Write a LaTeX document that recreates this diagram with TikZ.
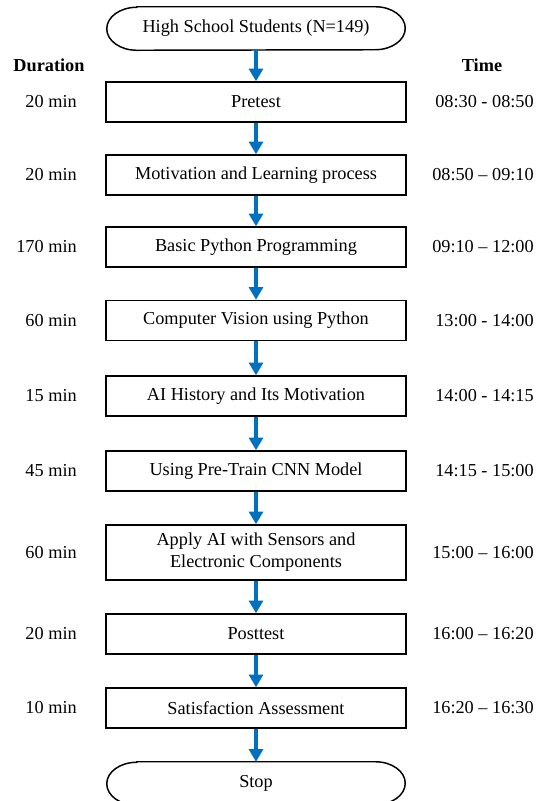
\documentclass[tikz,border=0pt]{standalone}
\usepackage{fontspec}
\setmainfont{Liberation Serif}
\usepackage{tikz}
\usetikzlibrary{arrows.meta,calc,positioning}
\definecolor{flowblue}{RGB}{0,112,192}
\newcommand{\flowfont}{\fontsize{13.7}{16.5}\selectfont}

\tikzset{
  stage/.style={draw,line width=1.2pt,minimum width=225pt,align=center,inner sep=2pt},
  terminal/.style={minimum width=223.5pt,minimum height=32.25pt,inner sep=0pt},
  side/.style={inner sep=0pt,anchor=east},
  head/.style={font=\flowfont\bfseries,inner sep=0pt},
  flow/.style={flowblue,line width=3pt,-{Triangle[width=10.5pt,length=9.5pt]}}
}

\begin{document}
\begin{tikzpicture}[x=0.75pt,y=-0.75pt,font=\flowfont]
  \useasboundingbox (0,0) rectangle (542,801);
  \node[terminal] (start) at (256,28.5) {High School Students (N=149)};
  \node[terminal] (stop) at (256,783.5) {Stop};
  % stadium outline with elliptic ends
  \foreach \n in {start,stop}
    \draw[line width=1.1pt] ([xshift=22.5pt]\n.north west) -- ([xshift=-22.5pt]\n.north east)
      arc[start angle=90,end angle=-90,x radius=22.5pt,y radius=16.125pt]
      -- ([xshift=22.5pt]\n.south west)
      arc[start angle=270,end angle=90,x radius=22.5pt,y radius=16.125pt] -- cycle;
  \node[head] (durhead) at (49,65) {Duration};
  \node[head] (timehead) at (482,65) {Time};
  \foreach \i/\y/\h/\lab/\dur/\tm in {
      1/102/30/Pretest/20 min/08:30 - 08:50,
      2/175/30/Motivation and Learning process/20 min/08:50 -- 09:10,
      3/247/30/Basic Python Programming/170 min/09:10 -- 12:00,
      4/320.5/30/Computer Vision using Python/60 min/13:00 - 14:00,
      5/396/30/AI History and Its Motivation/15 min/14:00 - 14:15,
      6/471/30/Using Pre-Train CNN Model/45 min/14:15 - 15:00,
      7/552.5/41.25/{Apply AI with Sensors and\\Electronic Components}/60 min/15:00 -- 16:00,
      8/634/30/Posttest/20 min/16:00 -- 16:20,
      9/708/30/Satisfaction Assessment/10 min/16:20 -- 16:30} {
    \node[stage,minimum height=\h pt] (s\i) at (256,\y) {\lab};
    \node[side] (d\i) at (77,\y) {\dur};
    \node[side] (t\i) at (534,\y) {\tm};
  }
  \foreach \a/\b in {start/s1,s1/s2,s2/s3,s3/s4,s4/s5,s5/s6,s6/s7,s7/s8,s8/s9,s9/stop}
    \draw[flow] (\a.south) -- (\b.north);
\end{tikzpicture}
\end{document}
